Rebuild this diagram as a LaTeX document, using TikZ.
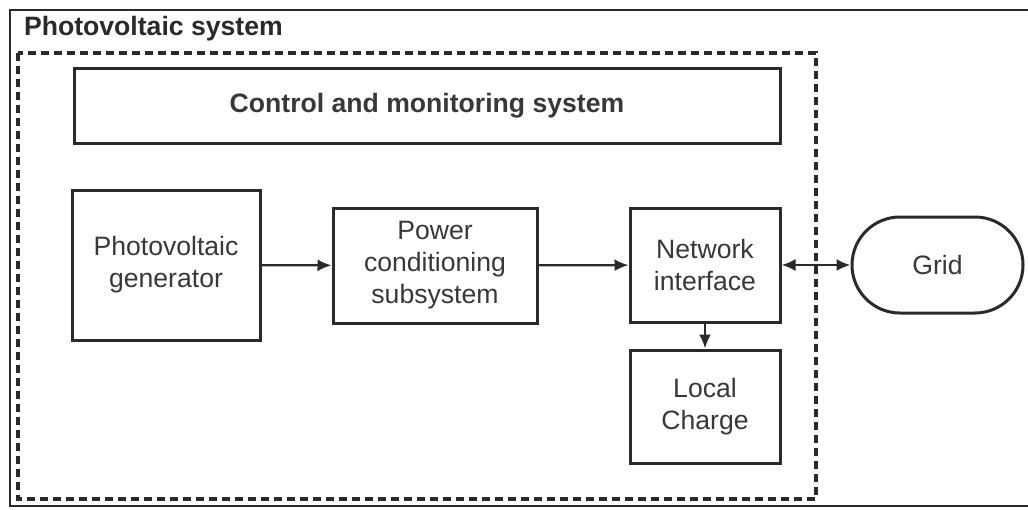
\documentclass[tikz,border=0pt]{standalone}
\usepackage{fontspec}
\setmainfont{Liberation Sans}
\usetikzlibrary{arrows.meta,shapes.misc}

\definecolor{inkcol}{HTML}{2A2A2A}
\definecolor{txtcol}{HTML}{383838}

\tikzset{
  blok/.style={draw=inkcol, line width=1.5pt, align=center, inner sep=0pt,
    text=txtcol, font=\fontsize{13.3}{16}\selectfont},
  pijl/.style={draw=inkcol, line width=1.1pt, -{Latex[length=7pt,width=6pt]}},
}

\begin{document}
\begin{tikzpicture}[x=0.5pt,y=-0.5pt]
                \useasboundingbox (0,0) rectangle (1028,509);
                \draw[inkcol, line width=1.3pt] (1028,10) -- (10,10) -- (10,506) -- (1028,506);
                \node[anchor=west, text=inkcol, font=\fontsize{13.3}{15}\selectfont\bfseries] (title) at (17,29) {Photovoltaic system};
                \draw[inkcol, line width=1.8pt, dash pattern=on 4pt off 2.5pt] (18,53) rectangle (816,499);

                \node[blok, minimum width=353pt, minimum height=37.5pt, font=\fontsize{13.3}{15}\selectfont\bfseries] (control) at (427,105.5) {Control and monitoring system};
                \node[blok, minimum width=94pt, minimum height=75pt] (pvgen) at (166,265) {Photovoltaic\\generator};
                \node[blok, minimum width=102pt, minimum height=57.5pt] (pcs) at (435,265.5) {Power\\conditioning\\subsystem};
                \node[blok, minimum width=75pt, minimum height=57pt] (netif) at (705,265) {Network\\interface};
                \node[blok, minimum width=75pt, minimum height=56.5pt] (load) at (705,406.5) {Local\\Charge};
                \node[blok, rounded rectangle, minimum width=85.5pt, minimum height=48pt] (grid) at (937.5,265) {Grid};

                \draw[pijl] (pvgen) -- (pcs);
                \draw[pijl] (pcs) -- (netif);
                \draw[pijl, {Latex[length=7pt,width=6pt]}-{Latex[length=7pt,width=6pt]}] (netif) -- (grid);
                \draw[pijl] (netif) -- (load);
            \end{tikzpicture}
\end{document}
